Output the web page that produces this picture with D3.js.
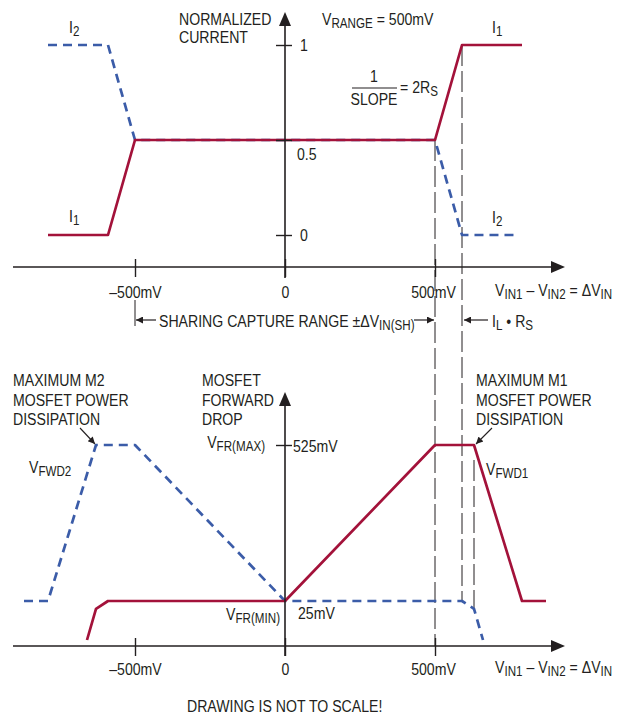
<!DOCTYPE html>
<html>
<head>
<meta charset="utf-8">
<script src="https://cdn.jsdelivr.net/npm/d3@7"></script>
<style>
  body { margin: 0; background: #fff; }
  svg text {
    font-family: 'Liberation Sans', Arial, sans-serif;
    font-size: 17px;
    fill: #231f20;
  }
</style>
</head>
<body>
<svg id="chart" width="621" height="715"></svg>
<script>
// ---- data (mV on the x axis) ----
const xTicks = [-500, 0, 500];
const xTickLabels = ['–500mV', '0', '500mV'];

// upper panel: normalized current
const currentTicks = [0, 0.5, 1];
const currentTickLabels = ['0', '0.5', '1'];
const i1X = [-790, -590, -500, 500, 590, 790];
const i1Y = [0, 0, 0.5, 0.5, 1, 1];
const i2X = [-790, -590, -500, 500, 590, 780];
const i2Y = [1, 1, 0.5, 0.5, 0, 0];

// lower panel: MOSFET forward drop (mV)
const dropTicks = [25, 525];
const dropTickLabels = ['25mV', '525mV'];
const vfwd1X = [-660, -630, -590, 0, 500, 630, 790, 870];
const vfwd1Y = [-100, 0, 25, 25, 525, 525, 25, 25];
const vfwd2X = [-870, -790, -630, -500, 0, 590, 630, 660];
const vfwd2Y = [25, 25, 525, 525, 25, 25, 0, -100];

// vertical guide positions (mV)
const guideX = [500, 590, 630];

const ink = '#231f20';
const red = '#a3123a';
const blue = '#3b5ca8';
const SX = 0.83; // horizontal squeeze, condensed type look

const svg = d3.select('#chart');

const x = d3.scaleLinear().domain([-500, 500]).range([135, 435]);
const yTop = d3.scaleLinear().domain([0, 1]).range([235, 45]);
const yBot = d3.scaleLinear().domain([25, 525]).range([601, 445]);

const topAxisY = 267;
const botAxisY = 646;
const x0 = x(0);

// arrow marker for the little annotation arrows
svg.append('defs').append('marker')
    .attr('id', 'head')
    .attr('viewBox', '0 0 10 10')
    .attr('refX', 10).attr('refY', 5)
    .attr('markerWidth', 9).attr('markerHeight', 7)
    .attr('markerUnits', 'userSpaceOnUse')
    .attr('orient', 'auto')
    .append('path').attr('d', 'M0,0L10,5L0,10z').attr('fill', ink);

// text helper: parts are strings or {sub: '...'}
function label(px, py, parts, anchor) {
    const t = svg.append('text')
        .attr('transform', `translate(${px},${py}) scale(${SX},1)`)
        .attr('text-anchor', anchor || 'start');
    let down = false;
    parts.forEach(p => {
        if (typeof p === 'string') {
            t.append('tspan').attr('dy', down ? -3 : null).text(p);
            down = false;
        } else {
            t.append('tspan').attr('dy', 3).style('font-size', '14px').text(p.sub);
            down = true;
        }
    });
    return t;
}

// ---- guides ----
const guideTop = [yTop(0.5), yTop(1), yBot(525) + 15];
const guideBottom = [botAxisY, yBot(25), yBot(0)];
svg.append('g').selectAll('line')
    .data(guideX)
    .enter().append('line')
    .attr('x1', d => x(d)).attr('x2', d => x(d))
    .attr('y1', (d, i) => guideTop[i])
    .attr('y2', (d, i) => guideBottom[i])
    .attr('stroke', ink).attr('stroke-width', 1)
    .attr('stroke-dasharray', '21,5');

// ---- curves ----
function drawLine(xs, ys, yScale, color, dashed) {
    const pts = xs.map((v, i) => [x(v), yScale(ys[i])]);
    svg.append('path')
        .attr('d', d3.line()(pts))
        .attr('fill', 'none')
        .attr('stroke', color)
        .attr('stroke-width', 2.7)
        .attr('stroke-linejoin', 'round')
        .attr('stroke-dasharray', dashed ? '9,6' : null);
}
drawLine(i2X, i2Y, yTop, blue, true);
drawLine(i1X, i1Y, yTop, red, false);
drawLine(vfwd2X, vfwd2Y, yBot, blue, true);
drawLine(vfwd1X, vfwd1Y, yBot, red, false);

// ---- axes ----
function xAxis(ay, labelY) {
    svg.append('line').attr('x1', 13).attr('x2', 555)
        .attr('y1', ay).attr('y2', ay)
        .attr('stroke', ink).attr('stroke-width', 1.6);
    svg.append('path')
        .attr('d', `M565,${ay}L551,${ay - 6}L551,${ay + 6}z`).attr('fill', ink);
    const g = svg.append('g').attr('transform', `translate(0,${ay})`)
        .call(d3.axisBottom(x).tickValues(xTicks).tickSize(10)
            .tickFormat((d, i) => xTickLabels[i]));
    g.select('.domain').remove();
    g.selectAll('.tick line').attr('y1', -8).attr('y2', 10)
        .attr('stroke', ink).attr('stroke-width', 1.4);
    g.selectAll('.tick text').attr('y', labelY).attr('dy', null)
        .attr('x', d => d === 500 ? -2 / SX : 0)
        .attr('transform', `scale(${SX},1)`);
    label(495, ay + labelY - 2, ['V', {sub: 'IN1'}, ' – V', {sub: 'IN2'}, ' = ΔV', {sub: 'IN'}]);
}

function yAxis(scale, ticks, tickLabels, topY, bottomY) {
    svg.append('line').attr('x1', x0).attr('x2', x0)
        .attr('y1', bottomY).attr('y2', topY + 12)
        .attr('stroke', ink).attr('stroke-width', 1.6);
    svg.append('path')
        .attr('d', `M${x0},${topY}L${x0 - 6},${topY + 14}L${x0 + 6},${topY + 14}z`)
        .attr('fill', ink);
    const g = svg.append('g').attr('transform', `translate(${x0},0)`)
        .call(d3.axisRight(scale).tickValues(ticks).tickSize(7)
            .tickFormat((d, i) => tickLabels[i]));
    g.select('.domain').remove();
    g.selectAll('.tick line').attr('x1', -9).attr('stroke', ink).attr('stroke-width', 1.4);
    g.selectAll('.tick text').attr('transform', `scale(${SX},1)`);
    return g;
}

xAxis(topAxisY, 31);
xAxis(botAxisY, 29);

const gTop = yAxis(yTop, currentTicks, currentTickLabels, 12, 278);
gTop.selectAll('.tick text')
    .attr('x', d => (d === 0.5 ? 12 : 15) / SX)
    .attr('y', d => d === 0.5 ? 14 : 0);

const gBot = yAxis(yBot, dropTicks, dropTickLabels, 392, 656);
gBot.selectAll('.tick line').filter(d => d === 25).remove();
gBot.selectAll('.tick text')
    .attr('x', d => (d === 25 ? 13 : 8) / SX)
    .attr('y', d => d === 25 ? 12 : 1);

// ---- upper panel text ----
label(179, 25, ['NORMALIZED']);
label(179, 43, ['CURRENT']);
label(322, 25, ['V', {sub: 'RANGE'}, ' = 500mV']);
label(69, 33, ['I', {sub: '2'}]);
label(492, 33, ['I', {sub: '1'}]);
label(69, 222, ['I', {sub: '1'}]);
label(492, 223, ['I', {sub: '2'}]);

label(374, 82, ['1'], 'middle');
svg.append('line').attr('x1', 352).attr('x2', 397).attr('y1', 88).attr('y2', 88)
    .attr('stroke', ink).attr('stroke-width', 1.2);
label(374, 105, ['SLOPE'], 'middle');
label(400, 93, ['= 2R', {sub: 'S'}]);

// ---- sharing capture range ----
svg.append('line').attr('x1', x(-500)).attr('x2', x(-500)).attr('y1', 300).attr('y2', 326)
    .attr('stroke', ink).attr('stroke-width', 1);
svg.append('line').attr('x1', 156).attr('x2', x(-500) + 1).attr('y1', 320).attr('y2', 320)
    .attr('stroke', ink).attr('stroke-width', 1.2).attr('marker-end', 'url(#head)');
label(159, 327, ['SHARING CAPTURE RANGE ±ΔV', {sub: 'IN(SH)'}]);
svg.append('line').attr('x1', 414).attr('x2', x(500) - 1).attr('y1', 320).attr('y2', 320)
    .attr('stroke', ink).attr('stroke-width', 1.2).attr('marker-end', 'url(#head)');
svg.append('line').attr('x1', 488).attr('x2', x(590) + 2).attr('y1', 320).attr('y2', 320)
    .attr('stroke', ink).attr('stroke-width', 1.2).attr('marker-end', 'url(#head)');
label(492, 327, ['I', {sub: 'L'}, ' • R', {sub: 'S'}]);

// ---- lower panel text ----
['MAXIMUM M2', 'MOSFET POWER', 'DISSIPATION'].forEach((s, i) => label(13, 386 + i * 19.5, [s]));
['MOSFET', 'FORWARD', 'DROP'].forEach((s, i) => label(202, 386 + i * 19.5, [s]));
['MAXIMUM M1', 'MOSFET POWER', 'DISSIPATION'].forEach((s, i) => label(476, 386 + i * 19.5, [s]));

svg.append('line').attr('x1', 80).attr('y1', 428).attr('x2', 95).attr('y2', 444)
    .attr('stroke', ink).attr('stroke-width', 1.1).attr('marker-end', 'url(#head)');
svg.append('line').attr('x1', 492).attr('y1', 428).attr('x2', 476).attr('y2', 444)
    .attr('stroke', ink).attr('stroke-width', 1.1).attr('marker-end', 'url(#head)');

label(265, 448, ['V', {sub: 'FR(MAX)'}], 'end');
label(280, 620, ['V', {sub: 'FR(MIN)'}], 'end');
label(29, 473, ['V', {sub: 'FWD2'}]);
label(486, 475, ['V', {sub: 'FWD1'}]);

label(187, 712, ['DRAWING IS NOT TO SCALE!']);
</script>
</body>
</html>
